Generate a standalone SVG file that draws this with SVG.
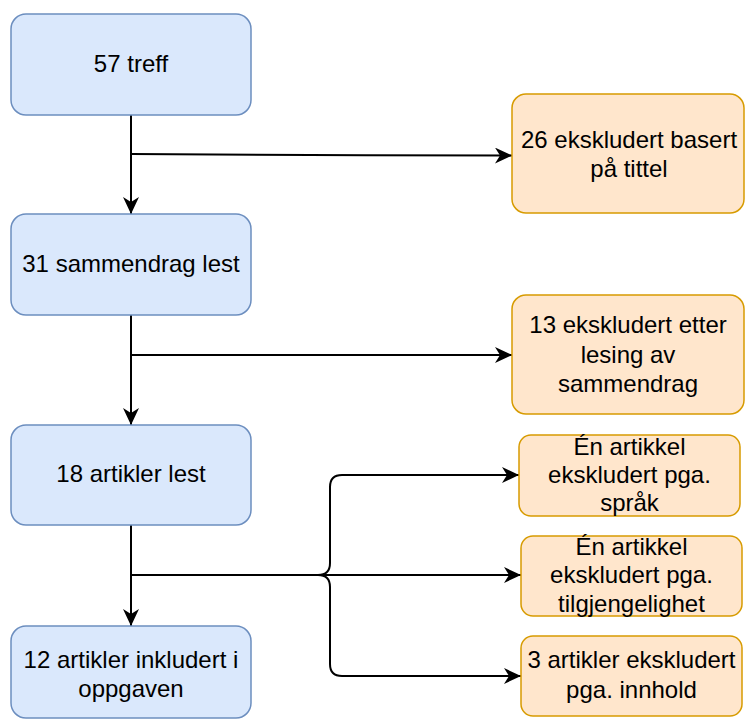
<svg xmlns="http://www.w3.org/2000/svg" width="746" height="720" viewBox="0 0 746 720">
<defs>
<style>
.blue{fill:#dae8fc;stroke:#6c8ebf;stroke-width:1.5}
.orange{fill:#ffe6cc;stroke:#d79b00;stroke-width:1.5}
.t{font-family:"Liberation Sans",Arial,Helvetica,sans-serif;font-size:24px;fill:#000;text-anchor:middle}
.edge{fill:none;stroke:#000;stroke-width:2}
</style>
<marker id="arr" viewBox="0 0 17 16" refX="17" refY="8" markerWidth="17" markerHeight="16" markerUnits="userSpaceOnUse" orient="auto">
<path d="M0,0 L17,8 L0,16 L5,8 Z" fill="#000"/>
</marker>
</defs>
<rect width="746" height="720" fill="#fff"/>
<g id="connectors">
<path class="edge" d="M131 115 L131 214" marker-end="url(#arr)"/>
<path class="edge" d="M131 154 C 280 154, 380 156, 512 155.5" marker-end="url(#arr)"/>
<path class="edge" d="M131 315 L131 425" marker-end="url(#arr)"/>
<path class="edge" d="M131 355 L512 355" marker-end="url(#arr)"/>
<path class="edge" d="M131 525 L131 626" marker-end="url(#arr)"/>
<path class="edge" d="M131 575 L318 575 Q330 575 330 563 L330 487 Q330 475 342 475 L519 475" marker-end="url(#arr)"/>
<path class="edge" d="M131 575 L521 575" marker-end="url(#arr)"/>
<path class="edge" d="M131 575 L318 575 Q330 575 330 587 L330 664 Q330 676 342 676 L521 676" marker-end="url(#arr)"/>
</g>
<g id="n1"><rect class="blue" x="11" y="14" width="240" height="101" rx="15"/><text class="t" x="131" y="72">57 treff</text></g>
<g id="n2"><rect class="blue" x="11" y="214" width="240" height="101" rx="15"/><text class="t" x="131" y="272">31 sammendrag lest</text></g>
<g id="n3"><rect class="blue" x="11" y="425" width="240" height="100" rx="15"/><text class="t" x="131" y="482">18 artikler lest</text></g>
<g id="n4"><rect class="blue" x="11" y="626" width="240" height="92" rx="15"/><text class="t" x="131" y="668">12 artikler inkludert i</text><text class="t" x="131" y="697">oppgaven</text></g>
<g id="e1"><rect class="orange" x="512" y="94" width="232" height="119" rx="14"/><text class="t" x="629" y="148">26 ekskludert basert</text><text class="t" x="629" y="177">på tittel</text></g>
<g id="e2"><rect class="orange" x="512" y="295" width="232" height="119" rx="14"/><text class="t" x="628" y="333">13 ekskludert etter</text><text class="t" x="628" y="363">lesing av</text><text class="t" x="628" y="392">sammendrag</text></g>
<g id="e3"><rect class="orange" x="519" y="435" width="221" height="81" rx="12"/><text class="t" x="629.5" y="455">Én artikkel</text><text class="t" x="629.5" y="483">ekskludert pga.</text><text class="t" x="629.5" y="511">språk</text></g>
<g id="e4"><rect class="orange" x="521" y="536" width="221" height="80" rx="12"/><text class="t" x="631.5" y="555">Én artikkel</text><text class="t" x="631.5" y="583">ekskludert pga.</text><text class="t" x="631.5" y="612">tilgjengelighet</text></g>
<g id="e5"><rect class="orange" x="521" y="636" width="221" height="80" rx="12"/><text class="t" x="631.5" y="668">3 artikler ekskludert</text><text class="t" x="631.5" y="698">pga. innhold</text></g>
</svg>
